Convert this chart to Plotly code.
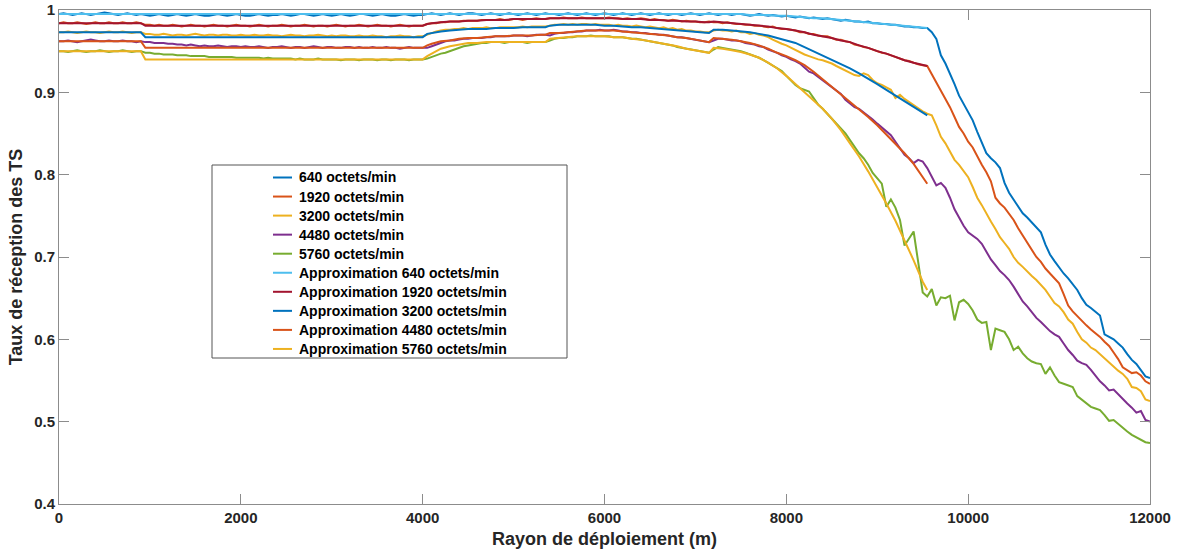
import plotly.graph_objects as go

# Deployment radius sampling for the measured curves (m)
DIST_M = list(range(0, 12001, 50))

# Measured reception rate, one value every 50 m
DATA_640 = [
    .995, .996, .995, .994, .995, .996, .995, .994, .995, .996, .997, .996, .995, .994, .995, .996, .995, .994, .995, .994,
    .993, .994, .995, .994, .993, .994, .995, .994, .993, .994, .995, .994, .993, .993, .994, .995, .994, .993, .994, .995,
    .994, .993, .993, .994, .995, .994, .993, .994, .994, .995, .994, .993, .994, .995, .995, .994, .993, .994, .995, .994,
    .993, .994, .995, .994, .993, .994, .995, .995, .994, .993, .994, .995, .994, .993, .993, .994, .995, .994, .993, .994,
    .994, .995, .996, .995, .994, .995, .996, .995, .994, .995, .996, .996, .995, .994, .995, .996, .995, .994, .995, .996,
    .995, .994, .995, .996, .995, .994, .995, .996, .995, .995, .994, .995, .996, .995, .994, .995, .996, .995, .994, .995,
    .996, .995, .994, .995, .996, .995, .994, .995, .996, .995, .994, .995, .996, .995, .994, .995, .995, .994, .995, .996,
    .995, .994, .995, .996, .995, .994, .995, .995, .994, .995, .995, .994, .993, .994, .995, .994, .993, .994, .993, .992,
    .993, .992, .991, .992, .991, .990, .991, .990, .989, .990, .989, .988, .987, .988, .987, .986, .986, .985, .986, .984,
    .984, .983, .983, .982, .982, .981, .980, .980, .979, .979, .978, .978, .973, .965, .945, .935, .923, .910, .896, .886,
    .875, .866, .852, .838, .826, .820, .815, .808, .790, .778, .770, .762, .753, .748, .742, .737, .730, .715, .703, .695,
    .687, .680, .674, .667, .660, .650, .642, .638, .633, .629, .606, .603, .600, .595, .590, .582, .575, .570, .562, .555,
    .553,
]
DATA_1920 = [
    .984, .985, .984, .984, .985, .984, .983, .984, .985, .984, .984, .985, .984, .984, .985, .984, .984, .985, .984, .982,
    .982, .981, .982, .981, .981, .982, .981, .980, .981, .982, .981, .981, .980, .981, .982, .981, .981, .980, .981, .982,
    .981, .981, .980, .981, .982, .981, .980, .981, .981, .982, .981, .980, .981, .981, .982, .981, .980, .981, .981, .980,
    .981, .982, .981, .980, .981, .981, .982, .981, .980, .981, .982, .981, .981, .980, .981, .982, .981, .980, .981, .981,
    .981, .983, .984, .984, .985, .985, .986, .986, .986, .987, .987, .987, .987, .988, .988, .988, .988, .989, .988, .988,
    .989, .989, .988, .989, .989, .990, .989, .989, .990, .990, .990, .991, .990, .990, .990, .991, .990, .990, .990, .990,
    .990, .991, .990, .990, .989, .990, .989, .989, .990, .989, .988, .989, .988, .988, .987, .988, .987, .986, .987, .986,
    .986, .985, .985, .986, .985, .985, .984, .985, .984, .983, .983, .982, .982, .981, .981, .980, .979, .980, .978, .977,
    .977, .976, .975, .973, .973, .971, .971, .969, .968, .968, .966, .964, .964, .962, .961, .958, .957, .955, .954, .952,
    .950, .948, .947, .945, .943, .941, .939, .938, .936, .934, .933, .932, .922, .911, .902, .892, .882, .870, .858, .850,
    .840, .833, .822, .812, .803, .792, .772, .765, .760, .753, .745, .735, .726, .717, .709, .700, .694, .686, .680, .674,
    .668, .655, .641, .634, .628, .623, .617, .612, .608, .603, .597, .592, .584, .576, .566, .563, .559, .560, .556, .549,
    .546,
]
DATA_3200 = [
    .973, .973, .974, .973, .972, .973, .974, .973, .973, .972, .973, .974, .973, .973, .974, .973, .972, .973, .973, .971,
    .971, .970, .970, .971, .970, .969, .970, .970, .969, .970, .971, .970, .969, .970, .970, .969, .970, .970, .969, .969,
    .970, .969, .969, .970, .969, .969, .970, .969, .969, .968, .969, .970, .969, .969, .968, .969, .969, .970, .969, .968,
    .969, .968, .969, .969, .968, .968, .969, .968, .968, .969, .968, .968, .967, .968, .968, .969, .968, .968, .967, .968,
    .968, .970, .972, .974, .975, .976, .976, .977, .977, .978, .977, .978, .978, .978, .979, .978, .978, .979, .979, .979,
    .979, .979, .980, .979, .980, .980, .980, .980, .981, .982, .982, .983, .982, .983, .982, .983, .983, .982, .983, .982,
    .982, .982, .981, .982, .981, .981, .980, .981, .980, .979, .980, .979, .978, .979, .977, .978, .976, .977, .975, .975,
    .974, .974, .973, .973, .975, .976, .975, .975, .974, .975, .973, .973, .971, .972, .970, .969, .967, .964, .961, .959,
    .957, .954, .951, .949, .946, .944, .942, .940, .939, .937, .935, .932, .929, .926, .924, .921, .920, .923, .921, .915,
    .911, .909, .906, .903, .893, .897, .892, .888, .885, .880, .877, .874, .872, .860, .846, .838, .828, .818, .812, .805,
    .797, .785, .772, .763, .752, .743, .734, .724, .717, .710, .700, .693, .688, .682, .677, .672, .666, .660, .652, .644,
    .640, .633, .624, .619, .609, .600, .596, .590, .587, .582, .576, .572, .566, .562, .558, .552, .542, .541, .537, .527,
    .525,
]
DATA_4480 = [
    .962, .962, .963, .962, .961, .962, .963, .964, .963, .962, .962, .963, .962, .962, .963, .962, .962, .961, .962, .961,
    .961, .960, .960, .960, .959, .959, .958, .958, .957, .958, .957, .956, .957, .956, .956, .957, .956, .955, .956, .956,
    .955, .956, .955, .955, .956, .955, .954, .955, .955, .956, .955, .954, .955, .955, .954, .955, .956, .955, .954, .955,
    .955, .954, .954, .955, .955, .954, .955, .954, .954, .955, .954, .954, .955, .954, .954, .953, .954, .955, .954, .954,
    .954, .954, .956, .958, .960, .962, .963, .963, .964, .965, .965, .966, .966, .966, .967, .967, .968, .968, .968, .968,
    .969, .969, .969, .968, .969, .970, .970, .970, .969, .971, .972, .972, .973, .973, .974, .974, .975, .975, .975, .976,
    .975, .975, .976, .975, .974, .974, .973, .973, .972, .972, .971, .971, .970, .970, .969, .968, .967, .967, .966, .965,
    .964, .963, .962, .961, .963, .965, .965, .964, .963, .963, .962, .960, .959, .958, .956, .955, .952, .950, .948, .945,
    .943, .940, .938, .935, .930, .925, .923, .919, .915, .911, .907, .902, .898, .891, .886, .882, .880, .876, .872, .867,
    .862, .857, .852, .848, .840, .832, .824, .820, .814, .818, .816, .808, .798, .787, .790, .784, .772, .758, .748, .738,
    .730, .726, .722, .716, .706, .697, .690, .683, .678, .672, .664, .655, .646, .640, .633, .626, .621, .615, .610, .606,
    .603, .595, .587, .581, .574, .571, .569, .563, .556, .549, .544, .538, .539, .533, .527, .522, .517, .511, .513, .502,
    .500,
]
DATA_5760 = [
    .950, .950, .949, .950, .951, .950, .949, .950, .950, .951, .950, .949, .950, .950, .951, .950, .949, .950, .950, .948,
    .948, .947, .947, .946, .946, .946, .945, .945, .945, .944, .944, .944, .944, .943, .943, .943, .943, .943, .943, .942,
    .942, .942, .942, .942, .942, .941, .942, .941, .941, .941, .941, .941, .940, .941, .940, .940, .940, .941, .940, .940,
    .940, .940, .939, .940, .940, .940, .939, .940, .940, .940, .939, .940, .940, .939, .940, .940, .940, .939, .940, .940,
    .940, .941, .943, .945, .947, .948, .950, .952, .954, .956, .957, .958, .959, .960, .960, .961, .961, .961, .960, .961,
    .961, .961, .961, .960, .961, .961, .961, .961, .963, .965, .966, .966, .967, .967, .968, .968, .968, .969, .968, .968,
    .968, .968, .967, .967, .967, .966, .965, .965, .964, .963, .962, .961, .960, .959, .958, .957, .955, .954, .953, .952,
    .951, .950, .949, .948, .952, .955, .954, .953, .952, .951, .950, .948, .946, .944, .942, .939, .936, .933, .930, .926,
    .920, .914, .909, .905, .903, .901, .893, .885, .880, .874, .868, .862, .856, .850, .842, .834, .826, .820, .812, .802,
    .795, .789, .761, .770, .760, .745, .714, .722, .731, .694, .657, .652, .661, .641, .651, .650, .653, .623, .645, .648,
    .643, .635, .624, .620, .621, .587, .613, .611, .609, .600, .587, .591, .583, .577, .573, .571, .570, .558, .566, .556,
    .548, .546, .544, .542, .531, .527, .523, .518, .516, .514, .508, .501, .502, .497, .493, .488, .484, .481, .478, .475,
    .474,
]

# Piecewise fitted curves (segments 0-900, 950-4000, 4050-5350, 5400-7150, 7200-9550 m)
FIT_X = [
    0, 450, 900,
    950, 2500, 4000,
    4050, 4100, 4200, 4300, 4400, 4500, 4600, 4700, 4800, 4900, 5000, 5100, 5200, 5300, 5350,
    5400, 5500, 5600, 5700, 5800, 5900, 6000, 6100, 6200, 6300, 6400, 6500, 6600, 6700, 6800, 6900, 7000, 7100, 7150,
    7200, 7300, 7400, 7500, 7600, 7700, 7800, 7900, 8000, 8100, 8200, 8300, 8400, 8500, 8600, 8700, 8800, 8900,
    9000, 9100, 9200, 9300, 9400, 9500, 9550,
]
FIT_640 = [
    .995, .995, .995,
    .995, .995, .995,
    .995, .995, .995, .995, .995, .995, .995, .995, .995, .995, .995, .995, .995, .995, .995,
    .995, .995, .995, .995, .995, .995, .995, .995, .995, .995, .995, .995, .995, .995, .995, .995, .995, .995, .995,
    .995, .995, .995, .995, .994, .994, .994, .993, .993, .992, .991, .990, .990, .989, .988, .987, .986, .985,
    .984, .983, .982, .981, .980, .979, .978,
]
FIT_1920 = [
    .984, .984, .984,
    .981, .981, .981,
    .983, .984, .985, .986, .986, .987, .987, .988, .988, .988, .989, .989, .989, .989, .989,
    .990, .990, .990, .990, .990, .990, .990, .990, .989, .989, .989, .988, .988, .987, .987, .986, .986, .985, .985,
    .986, .985, .984, .983, .982, .981, .980, .978, .977, .975, .973, .970, .968, .966, .963, .961, .957, .954,
    .950, .947, .943, .939, .936, .933, .932,
]
FIT_3200 = [
    .973, .973, .973,
    .967, .967, .967,
    .971, .972, .974, .975, .976, .977, .977, .977, .978, .978, .978, .979, .979, .979, .979,
    .981, .982, .982, .982, .982, .982, .981, .981, .980, .979, .979, .978, .977, .976, .975, .974, .973, .972, .972,
    .976, .976, .975, .974, .973, .971, .969, .966, .963, .960, .955, .950, .945, .940, .935, .929, .923, .917,
    .910, .903, .896, .889, .882, .875, .872,
]
FIT_4480 = [
    .962, .962, .962,
    .954, .954, .954,
    .957, .959, .962, .963, .965, .966, .966, .967, .968, .968, .969, .969, .969, .970, .970,
    .972, .972, .973, .974, .975, .975, .975, .975, .974, .973, .972, .971, .970, .969, .967, .966, .964, .962, .961,
    .966, .965, .964, .962, .960, .957, .953, .948, .944, .939, .933, .925, .916, .907, .898, .888, .880, .870,
    .860, .849, .838, .826, .813, .797, .789,
]
FIT_5760 = [
    .950, .950, .950,
    .940, .940, .940,
    .944, .947, .953, .956, .958, .960, .960, .961, .961, .961, .961, .961, .961, .961, .961,
    .965, .966, .967, .968, .968, .968, .968, .967, .967, .965, .964, .962, .960, .958, .956, .953, .951, .949, .948,
    .954, .953, .951, .949, .946, .942, .936, .929, .920, .910, .900, .890, .880, .868, .854, .838, .822, .804,
    .785, .765, .744, .721, .696, .670, .660,
]

SERIES = [
    ("640 octets/min", DIST_M, DATA_640, "#0072BD"),
    ("1920 octets/min", DIST_M, DATA_1920, "#D95319"),
    ("3200 octets/min", DIST_M, DATA_3200, "#EDB120"),
    ("4480 octets/min", DIST_M, DATA_4480, "#7E2F8E"),
    ("5760 octets/min", DIST_M, DATA_5760, "#77AC30"),
    ("Approximation 640 octets/min", FIT_X, FIT_640, "#4DBEEE"),
    ("Approximation 1920 octets/min", FIT_X, FIT_1920, "#A2142F"),
    ("Approximation 3200 octets/min", FIT_X, FIT_3200, "#0072BD"),
    ("Approximation 4480 octets/min", FIT_X, FIT_4480, "#D95319"),
    ("Approximation 5760 octets/min", FIT_X, FIT_5760, "#EDB120"),
]

X_TICKS = [0, 2000, 4000, 6000, 8000, 10000, 12000]
X_TICK_TEXT = ["0", "2000", "4000", "6000", "8000", "10000", "12000"]
Y_TICKS = [0.4, 0.5, 0.6, 0.7, 0.8, 0.9, 1.0]
Y_TICK_TEXT = ["0.4", "0.5", "0.6", "0.7", "0.8", "0.9", "1"]

FONT = "Liberation Sans, Arial, Helvetica, sans-serif"
AXIS_GREY = "#8c8c8c"
TEXT_DARK = "#262626"

# Figure geometry (px)
W, H = 1177, 556
M_L, M_R, M_T, M_B = 59, 27, 10, 52
PLOT_W = W - M_L - M_R
PLOT_H = H - M_T - M_B


def px_to_paper(px, py):
    return (px - M_L) / PLOT_W, 1 - (py - M_T) / PLOT_H


# Boxed legend placed inside the axes
LEGEND_BOX = (212, 165, 567, 358)      # left, top, right, bottom
LEGEND_SAMPLE = (273, 292)             # line sample start / end
LEGEND_TEXT_X = 297
LEGEND_ROW0, LEGEND_ROW_STEP = 177.5, 19.05

fig = go.Figure()
for name, xs, ys, color in SERIES:
    fig.add_trace(go.Scatter(x=xs, y=ys, mode="lines", name=name,
                             line=dict(color=color, width=2)))

bx0, by1 = px_to_paper(LEGEND_BOX[0], LEGEND_BOX[1])
bx1, by0 = px_to_paper(LEGEND_BOX[2], LEGEND_BOX[3])
shapes = [dict(type="rect", xref="paper", yref="paper", x0=bx0, x1=bx1, y0=by0, y1=by1,
               line=dict(color="#555555", width=1), fillcolor="white", layer="below")]
annotations = []
for i, (name, _, _, color) in enumerate(SERIES):
    row_y = LEGEND_ROW0 + i * LEGEND_ROW_STEP
    sx0, sy = px_to_paper(LEGEND_SAMPLE[0], row_y)
    sx1, _ = px_to_paper(LEGEND_SAMPLE[1], row_y)
    tx, _ = px_to_paper(LEGEND_TEXT_X, row_y)
    shapes.append(dict(type="line", xref="paper", yref="paper", x0=sx0, x1=sx1, y0=sy, y1=sy,
                       line=dict(color=color, width=2)))
    annotations.append(dict(text=name, xref="paper", yref="paper", x=tx, y=sy,
                            xanchor="left", yanchor="middle", showarrow=False,
                            font=dict(family=FONT, size=14, color="#000000", weight="bold")))

axis_common = dict(
    showline=True, linecolor=AXIS_GREY, linewidth=1, mirror="ticks",
    ticks="inside", ticklen=10, tickwidth=1, tickcolor=AXIS_GREY,
    showgrid=False, zeroline=False, automargin=False,
    tickfont=dict(family=FONT, size=15, color=TEXT_DARK, weight="bold"),
)

fig.update_layout(
    width=W, height=H,
    margin=dict(l=M_L, r=M_R, t=M_T, b=M_B),
    paper_bgcolor="white", plot_bgcolor="white",
    font=dict(family=FONT, color=TEXT_DARK),
    showlegend=False,
    xaxis=dict(range=[0, 12000], tickvals=X_TICKS, ticktext=X_TICK_TEXT,
               title=dict(text="Rayon de déploiement (m)", standoff=7,
                          font=dict(family=FONT, size=18, color=TEXT_DARK, weight="bold")),
               **axis_common),
    yaxis=dict(range=[0.4, 1.0], tickvals=Y_TICKS, ticktext=Y_TICK_TEXT,
               title=dict(text="Taux de réception des TS", standoff=6,
                          font=dict(family=FONT, size=18, color=TEXT_DARK, weight="bold")),
               **axis_common),
    shapes=shapes,
    annotations=annotations,
)

fig.write_html("out.html")
